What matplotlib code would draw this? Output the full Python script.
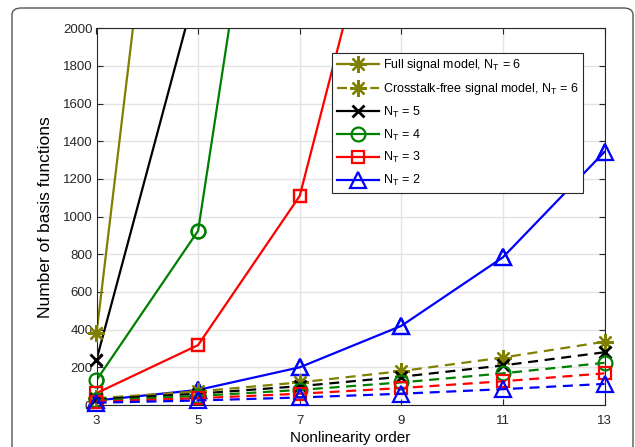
import numpy as np
import matplotlib
matplotlib.use("Agg")
import matplotlib.pyplot as plt
from matplotlib.patches import FancyBboxPatch

plt.rcParams['font.family'] = ['Liberation Sans', 'DejaVu Sans']
plt.rcParams['mathtext.fontset'] = 'custom'
plt.rcParams['mathtext.rm'] = 'Liberation Sans'
plt.rcParams['mathtext.it'] = 'Liberation Sans'

# nonlinearity orders
orders = [3, 5, 7, 9, 11, 13]

# full signal model (values above 2000 run off the top of the axes)
full_nt6 = [380, 4900, np.nan, np.nan, np.nan, np.nan]
full_nt5 = [240, 2250, np.nan, np.nan, np.nan, np.nan]
full_nt4 = [132, 925, 4450, np.nan, np.nan, np.nan]
full_nt3 = [63, 318, 1110, 3200, np.nan, np.nan]
full_nt2 = [24, 80, 200, 420, 784, 1344]

# crosstalk-free signal model
free_nt6 = [36, 72, 120, 180, 252, 336]
free_nt5 = [30, 60, 100, 150, 210, 280]
free_nt4 = [24, 48, 80, 120, 168, 224]
free_nt3 = [18, 36, 60, 90, 126, 168]
free_nt2 = [12, 24, 40, 60, 84, 112]

olive = '#808000'
green = '#008000'
star = (8, 2, 0)

# (full, free, colour, marker, marker size, label)
series = [
    (full_nt6, free_nt6, olive, star, 12, 'Full signal model, N$_\\mathrm{T}$ = 6'),
    (full_nt5, free_nt5, 'k', 'x', 9, 'N$_\\mathrm{T}$ = 5'),
    (full_nt4, free_nt4, green, 'o', 10, 'N$_\\mathrm{T}$ = 4'),
    (full_nt3, free_nt3, 'r', 's', 9, 'N$_\\mathrm{T}$ = 3'),
    (full_nt2, free_nt2, 'b', '^', 12, 'N$_\\mathrm{T}$ = 2'),
]

YMAX = 2000

fig = plt.figure(figsize=(6.35, 4.47), dpi=100)
W, H = 635, 447

# rounded outer frame
frame = FancyBboxPatch((12 / W, -0.1), (621 / W), (439 / H) + 0.1,
                       boxstyle="round,pad=0,rounding_size=0.015",
                       transform=fig.transFigure, fc='none', ec='#555555',
                       lw=1.0, clip_on=False)
fig.patches.append(frame)

ax = fig.add_axes([96.5 / W, 42 / H, 508 / W, 376.7 / H])

handles = {}
lw = 1.6
for full, free, col, mk, ms, lab in series:
    full = np.array(full, dtype=float)
    mew = 1.6 if mk != 'x' else 2.0
    h, = ax.plot(orders, full, '-', color=col, lw=lw, marker=mk, ms=ms,
                 mfc='none', mec=col, mew=mew, label=lab)
    handles[lab] = h
    vis = np.where(full <= YMAX, full, np.nan)
    ax.plot(orders, vis, 'none', marker=mk, ms=ms, mfc='none', mec=col,
            mew=mew, clip_on=False, zorder=3)

for full, free, col, mk, ms, lab in series:
    free = np.array(free, dtype=float)
    mew = 1.6 if mk != 'x' else 2.0
    h, = ax.plot(orders, free, '--', color=col, lw=lw, dashes=(4.5, 3),
                 marker=mk, ms=ms, mfc='none', mec=col, mew=mew,
                 clip_on=False, zorder=3)
    if col == olive:
        handles['free'] = h

ax.set_xlim(3, 13)
ax.set_ylim(0, YMAX)
ax.set_xticks(orders)
ax.set_yticks(np.arange(0, 2001, 200))
ax.grid(True, color='#e3e3e3', lw=1.0)
ax.set_axisbelow(True)
ax.tick_params(direction='in', top=True, right=True, length=4, width=0.8,
               labelsize=9.5, colors='#262626')
ax.tick_params(axis='y', pad=3)
ax.tick_params(axis='x', pad=7)
for s in ax.spines.values():
    s.set_color('#262626')
    s.set_linewidth(0.8)

ax.set_xlabel('Nonlinearity order', fontsize=11, labelpad=3)
ax.set_ylabel('Number of basis functions', fontsize=12.5, labelpad=7)

order = ['Full signal model, N$_\\mathrm{T}$ = 6', 'free',
         'N$_\\mathrm{T}$ = 5', 'N$_\\mathrm{T}$ = 4',
         'N$_\\mathrm{T}$ = 3', 'N$_\\mathrm{T}$ = 2']
labels = list(order)
labels[1] = 'Crosstalk-free signal model, N$_\\mathrm{T}$ = 6'
leg = ax.legend([handles[k] for k in order], labels, loc='upper right',
                bbox_to_anchor=(0.958, 0.935), borderaxespad=0, numpoints=1,
                fontsize=9, handlelength=3.4, handletextpad=0.3,
                labelspacing=0.62, fancybox=False, framealpha=1,
                edgecolor='#262626', borderpad=0.35)
leg.get_frame().set_linewidth(0.8)

fig.savefig('out.png', dpi=100)
